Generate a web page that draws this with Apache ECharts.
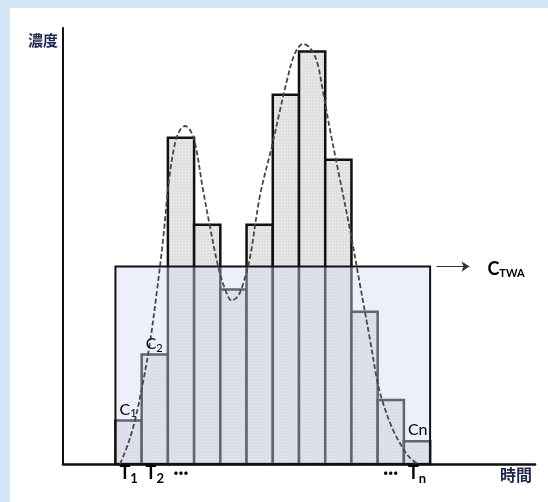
<!DOCTYPE html>
<html><head><meta charset="utf-8">
<script src="https://cdn.jsdelivr.net/npm/echarts@6/dist/echarts.min.js"></script>
<style>
html,body{margin:0;padding:0;background:#d4e5f6;width:548px;height:502px;overflow:hidden;}
#chart{position:absolute;left:10px;top:8px;width:538px;height:494px;background:#ffffff;}
</style></head><body><div id="chart"></div>
<script>
// ---- data ----
const barValues = [10.0, 25.1, 74.8, 54.9, 40.0, 54.9, 84.7, 94.6, 69.8, 34.9, 14.7, 5.2];
const ctwaValue = 45.3;
const curveX = [0.175, 0.48, 0.748, 1.053, 1.32, 1.587, 1.815, 2.044, 2.273, 2.464, 2.655, 2.845, 3.036, 3.341, 3.608, 3.913, 4.18, 4.436, 4.676, 4.878, 5.134, 5.515, 5.961, 6.278, 6.545, 6.85, 7.155, 7.422, 7.689, 7.917, 8.184, 8.565, 8.947, 9.328, 9.71, 9.977, 10.168, 10.587, 11.007, 11.236, 11.491];
const curveY = [0, 4.59, 10.09, 18.81, 27.98, 39.91, 51.38, 65.14, 73.62, 76.61, 77.52, 76.61, 73.62, 62.84, 54.36, 45.41, 40.14, 37.5, 38.53, 41.51, 47.48, 61.7, 72.71, 81.19, 88.07, 94.27, 96.33, 95.41, 92.2, 85.32, 76.61, 65.14, 53.67, 41.06, 28.44, 19.27, 14.68, 7.8, 3.21, 1.38, 0.11];
const yAxisName = '濃度';
const xAxisName = '時間';
const concLabelBars = [0, 1, 11];
const concLabelMain = ['C', 'C', 'Cn'];
const concLabelSub = ['1', '2', ''];
const timeLabelBars = [0, 1, 2, 10, 11];
const timeLabelMain = ['T', 'T', '···', '···', 'T'];
const timeLabelSub = ['1', '2', '', '', 'n'];
const ctwaMain = 'C';
const ctwaSub = 'TWA';
const arrowFrom = 12.25, arrowTo = 13.5;

// ---- styles ----
const navy = '#1e2652';
const labelGrey = '#4a5878';
const latin = 'Lato, "Open Sans", sans-serif';
const cjk = '"Noto Sans CJK JP", sans-serif';

const pc = document.createElement('canvas');
pc.width = 3; pc.height = 3;
const pctx = pc.getContext('2d');
pctx.fillStyle = '#e0e0e0'; pctx.fillRect(0, 0, 3, 3);
pctx.fillStyle = '#f5f5f5'; pctx.fillRect(1, 1, 1, 1);
const barPattern = { image: pc, repeat: 'repeat' };

const chart = echarts.init(document.getElementById('chart'), null, { renderer: 'canvas' });

function richFor(mainSize, subSize, bold, color, subDrop) {
  return {
    m: { fontSize: mainSize, fontFamily: latin, fontWeight: bold ? 'bold' : 'normal', color: color, lineHeight: mainSize + 2, verticalAlign: 'bottom', padding: [0, 0, subDrop, 0] },
    s: { fontSize: subSize, fontFamily: latin, fontWeight: bold ? 'bold' : 'normal', color: color, lineHeight: subSize + 1, verticalAlign: 'bottom' }
  };
}

chart.setOption({
  animation: false,
  grid: { left: 53, right: 13, top: 20, bottom: 38 },
  xAxis: {
    type: 'value', min: -2, max: 16,
    axisLine: { show: true, onZero: false, lineStyle: { color: '#111', width: 2.5 } },
    axisTick: { show: false }, axisLabel: { show: false }, splitLine: { show: false },
    name: xAxisName, nameLocation: 'end', nameGap: -3,
    nameTextStyle: { fontFamily: cjk, fontWeight: 'bold', fontSize: 16, color: navy, align: 'right', verticalAlign: 'top', padding: [3, 0, 0, 0] }
  },
  yAxis: {
    type: 'value', min: 0, max: 100,
    axisLine: { show: true, onZero: false, lineStyle: { color: '#111', width: 2 } },
    axisTick: { show: false }, axisLabel: { show: false }, splitLine: { show: false },
    name: yAxisName, nameLocation: 'end', nameGap: -12,
    nameTextStyle: { fontFamily: cjk, fontWeight: 'bold', fontSize: 15, color: navy, align: 'right', verticalAlign: 'middle', padding: [0, 5, 0, 0] }
  },
  series: [
    {
      type: 'custom', z: 2, silent: true,
      data: barValues.map((v, i) => [i, v]),
      encode: { x: 0, y: 1 },
      renderItem(params, api) {
        const i = api.value(0), v = api.value(1);
        const p0 = api.coord([i, v]), p1 = api.coord([i + 1, 0]);
        return { type: 'rect', shape: { x: p0[0], y: p0[1], width: p1[0] - p0[0], height: p1[1] - p0[1] },
          style: { fill: barPattern, stroke: '#111', lineWidth: 2.5 } };
      }
    },
    {
      type: 'custom', z: 3, silent: true,
      data: [[0, ctwaValue, barValues.length]],
      encode: { x: [0, 2], y: 1 },
      renderItem(params, api) {
        const p0 = api.coord([api.value(0), api.value(1)]), p1 = api.coord([api.value(2), 0]);
        return { type: 'rect', shape: { x: p0[0], y: p0[1], width: p1[0] - p0[0], height: p1[1] - p0[1] },
          style: { fill: 'rgba(212,220,242,0.42)', stroke: '#111', lineWidth: 2 } };
      },
      markLine: {
        silent: true, symbol: ['none', 'arrow'], symbolSize: 8,
        lineStyle: { color: '#333', width: 1, type: 'solid' }, label: { show: false },
        data: [[{ coord: [arrowFrom, ctwaValue] }, { coord: [arrowTo, ctwaValue] }]]
      }
    },
    {
      type: 'line', z: 4, silent: true, smooth: 0.35, showSymbol: false,
      data: curveX.map((x, i) => [x, curveY[i]]),
      lineStyle: { color: '#484848', width: 1.8, type: [5, 2.5] }
    },
    {
      type: 'custom', z: 5, silent: true,
      data: concLabelBars.map((b, i) => [b, barValues[b], i]),
      encode: { x: 0, y: 1 },
      renderItem(params, api) {
        const k = api.value(2);
        const p = api.coord([api.value(0), api.value(1)]);
        const sub = concLabelSub[k];
        return { type: 'text', x: p[0] + 4, y: p[1] - 1,
          style: { text: '{m|' + concLabelMain[k] + '}' + (sub ? '{s|' + sub + '}' : ''), align: 'left', verticalAlign: 'bottom',
            rich: richFor(16, 11, false, labelGrey, 2) } };
      }
    },
    {
      type: 'custom', z: 5, silent: true,
      data: timeLabelBars.map((b, i) => [b + 0.5, 0, i]),
      encode: { x: 0, y: 1 },
      renderItem(params, api) {
        const k = api.value(2);
        const p = api.coord([api.value(0), 0]);
        const sub = timeLabelSub[k];
        return { type: 'text', x: p[0], y: p[1] + 1,
          style: { text: '{m|' + timeLabelMain[k] + '}' + (sub ? '{s|' + sub + '}' : ''), align: 'center', verticalAlign: 'top',
            rich: richFor(18, 13, true, navy, 3) } };
      }
    },
    {
      type: 'custom', z: 5, silent: true,
      data: [[arrowTo, ctwaValue]],
      encode: { x: 0, y: 1 },
      renderItem(params, api) {
        const p = api.coord([api.value(0), api.value(1)]);
        return { type: 'text', x: p[0] + 18, y: p[1] + 2,
          style: { text: '{m|' + ctwaMain + '}{s|' + ctwaSub + '}', align: 'left', verticalAlign: 'middle',
            rich: richFor(18, 11, true, navy, 0) } };
      }
    }
  ]
});
</script></body></html>
